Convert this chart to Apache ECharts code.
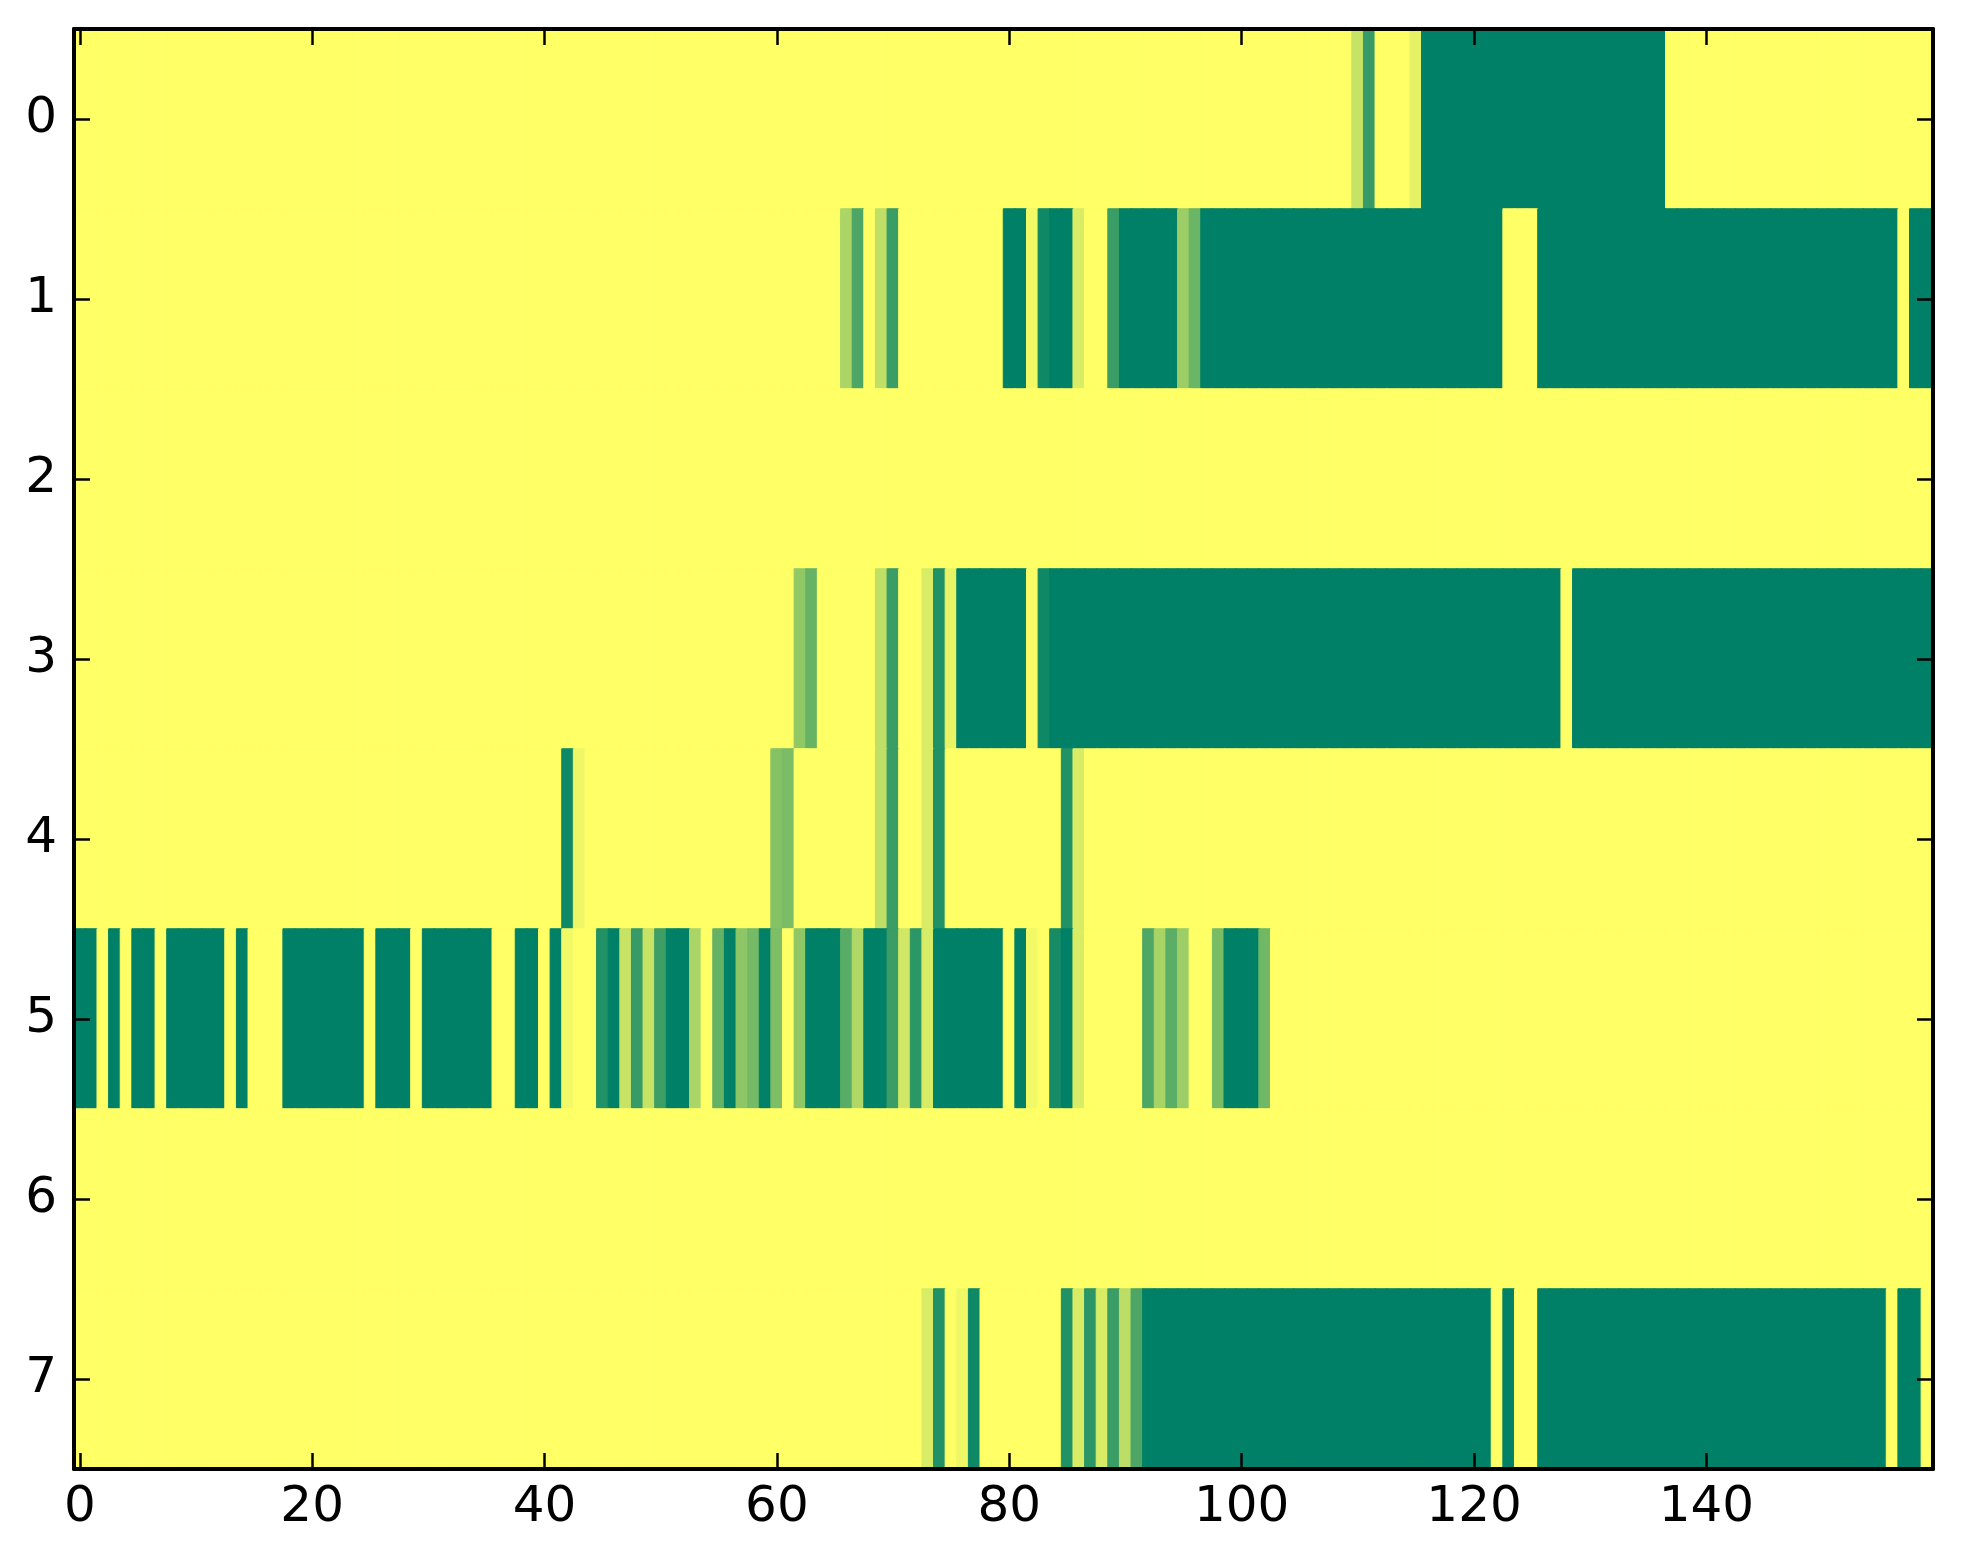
<!DOCTYPE html>
<html><head><meta charset="utf-8">
<script src="https://cdn.jsdelivr.net/npm/echarts@6/dist/echarts.min.js"></script>
<style>html,body{margin:0;padding:0;background:#fff}#c{width:1963px;height:1564px}</style>
</head><body><div id="c"></div>
<script>
// Values (0 = yellow, 1 = dark green), 160 columns per row
const row0 = [
0,0,0,0,0,0,0,0,0,0, 0,0,0,0,0,0,0,0,0,0, 0,0,0,0,0,0,0,0,0,0, 0,0,0,0,0,0,0,0,0,0,
0,0,0,0,0,0,0,0,0,0, 0,0,0,0,0,0,0,0,0,0, 0,0,0,0,0,0,0,0,0,0, 0,0,0,0,0,0,0,0,0,0,
0,0,0,0,0,0,0,0,0,0, 0,0,0,0,0,0,0,0,0,0, 0,0,0,0,0,0,0,0,0,0, 0.22,0.79,0,0,0,0.10,1,1,1,1,
1,1,1,1,1,1,1,1,1,1, 1,1,1,1,1,1,1,0,0,0, 0,0,0,0,0,0,0,0,0,0, 0,0,0,0,0,0,0,0,0,0];
const row1 = [
0,0,0,0,0,0,0,0,0,0, 0,0,0,0,0,0,0,0,0,0, 0,0,0,0,0,0,0,0,0,0, 0,0,0,0,0,0,0,0,0,0,
0,0,0,0,0,0,0,0,0,0, 0,0,0,0,0,0,0,0,0,0, 0,0,0,0,0,0,0.33,0.70,0,0.25, 0.77,0,0,0,0,0,0,0,0,0,
1,1,0.05,0.94,1,1,0.15,0,0,0.77, 1,1,1,1,1,0.39,0.58,1,1,1, 1,1,1,1,1,1,1,1,1,1, 1,1,1,1,1,1,1,1,1,1,
1,1,1,0,0,0,1,1,1,1, 1,1,1,1,1,1,1,1,1,1, 1,1,1,1,1,1,1,1,1,1, 1,1,1,1,1,1,1,0,1,1];
const row2 = [
0,0,0,0,0,0,0,0,0,0, 0,0,0,0,0,0,0,0,0,0, 0,0,0,0,0,0,0,0,0,0, 0,0,0,0,0,0,0,0,0,0,
0,0,0,0,0,0,0,0,0,0, 0,0,0,0,0,0,0,0,0,0, 0,0,0,0,0,0,0,0,0,0, 0,0,0,0,0,0,0,0,0,0,
0,0,0,0,0,0,0,0,0,0, 0,0,0,0,0,0,0,0,0,0, 0,0,0,0,0,0,0,0,0,0, 0,0,0,0,0,0,0,0,0,0,
0,0,0,0,0,0,0,0,0,0, 0,0,0,0,0,0,0,0,0,0, 0,0,0,0,0,0,0,0,0,0, 0,0,0,0,0,0,0,0,0,0];
const row3 = [
0,0,0,0,0,0,0,0,0,0, 0,0,0,0,0,0,0,0,0,0, 0,0,0,0,0,0,0,0,0,0, 0,0,0,0,0,0,0,0,0,0,
0,0,0,0,0,0,0,0,0,0, 0,0,0,0,0,0,0,0,0,0, 0,0,0.43,0.60,0,0,0,0,0,0.25, 0.77,0,0,0.15,0.87,0.09,1,1,1,1,
1,1,0.03,0.94,1,1,1,1,1,1, 1,1,1,1,1,1,1,1,1,1, 1,1,1,1,1,1,1,1,1,1, 1,1,1,1,1,1,1,1,1,1,
1,1,1,1,1,1,1,1,0,1, 1,1,1,1,1,1,1,1,1,1, 1,1,1,1,1,1,1,1,1,1, 1,1,1,1,1,1,1,1,1,1];
const row4 = [
0,0,0,0,0,0,0,0,0,0, 0,0,0,0,0,0,0,0,0,0, 0,0,0,0,0,0,0,0,0,0, 0,0,0,0,0,0,0,0,0,0,
0,0,0.94,0.06,0,0,0,0,0,0, 0,0,0,0,0,0,0,0,0,0, 0.48,0.52,0,0,0,0,0,0,0,0.25, 0.77,0,0,0.15,0.87,0,0,0,0,0,
0,0,0,0,0,0.87,0.15,0,0,0, 0,0,0,0,0,0,0,0,0,0, 0,0,0,0,0,0,0,0,0,0, 0,0,0,0,0,0,0,0,0,0,
0,0,0,0,0,0,0,0,0,0, 0,0,0,0,0,0,0,0,0,0, 0,0,0,0,0,0,0,0,0,0, 0,0,0,0,0,0,0,0,0,0];
const row5 = [
1,1,0,1,0,1,1,0,1,1, 1,1,1,0,1,0,0,0,1,1, 1,1,1,1,1,0,1,1,1,0, 1,1,1,1,1,1,0,0,1,1,
0,1,0.05,0,0,0.87,1,0.22,0.79,0.22, 0.76,1,1,0.33,0,0.61,1,0.45,0.54,1, 0.51,0,0.44,1,1,1,0.65,0.31,1,1, 0.77,0.18,0.83,0.16,1,1,1,1,1,1,
0,1,0.05,0,0.91,1,0.15,0,0,0, 0,0,0.69,0.34,0.64,0.39,0,0,0.53,1, 1,1,0.56,0,0,0,0,0,0,0, 0,0,0,0,0,0,0,0,0,0,
0,0,0,0,0,0,0,0,0,0, 0,0,0,0,0,0,0,0,0,0, 0,0,0,0,0,0,0,0,0,0, 0,0,0,0,0,0,0,0,0,0];
const row6 = [
0,0,0,0,0,0,0,0,0,0, 0,0,0,0,0,0,0,0,0,0, 0,0,0,0,0,0,0,0,0,0, 0,0,0,0,0,0,0,0,0,0,
0,0,0,0,0,0,0,0,0,0, 0,0,0,0,0,0,0,0,0,0, 0,0,0,0,0,0,0,0,0,0, 0,0,0,0,0,0,0,0,0,0,
0,0,0,0,0,0,0,0,0,0, 0,0,0,0,0,0,0,0,0,0, 0,0,0,0,0,0,0,0,0,0, 0,0,0,0,0,0,0,0,0,0,
0,0,0,0,0,0,0,0,0,0, 0,0,0,0,0,0,0,0,0,0, 0,0,0,0,0,0,0,0,0,0, 0,0,0,0,0,0,0,0,0,0];
const row7 = [
0,0,0,0,0,0,0,0,0,0, 0,0,0,0,0,0,0,0,0,0, 0,0,0,0,0,0,0,0,0,0, 0,0,0,0,0,0,0,0,0,0,
0,0,0,0,0,0,0,0,0,0, 0,0,0,0,0,0,0,0,0,0, 0,0,0,0,0,0,0,0,0,0, 0,0,0,0.15,0.87,0,0.06,0.94,0,0,
0,0,0,0,0,0.87,0.15,0.83,0.15,0.77, 0.26,0.70,1,1,1,1,1,1,1,1, 1,1,1,1,1,1,1,1,1,1, 1,1,1,1,1,1,1,1,1,1,
1,1,0,1,0,0,1,1,1,1, 1,1,1,1,1,1,1,1,1,1, 1,1,1,1,1,1,1,1,1,1, 1,1,1,1,1,1,0,1,1,0];

const rows = [row0, row1, row2, row3, row4, row5, row6, row7];
const rowLabels = ['0','1','2','3','4','5','6','7'];
const xTickLabels = ['0','20','40','60','80','100','120','140'];
const palette = ['#ffff66', '#008066']; // summer_r end colours

const columns = [];
for (let i = 0; i < row0.length; i++) columns.push(String(i));
const cells = [];
rows.forEach((r, y) => r.forEach((v, x) => cells.push({
  value: [x, y, v],
  itemStyle: { borderColor: echarts.color.lerp(v, palette), borderWidth: 1 }
})));

const FONT = 'DejaVu Sans';
const tickX = (idx) => xTickLabels.indexOf(String(idx)) >= 0;
function axisLine() { return { show: true, lineStyle: { color: '#000', width: 4 } }; }
function ticks(interval) {
  return { show: true, interval: interval, inside: true, length: 16, alignWithLabel: true,
           lineStyle: { color: '#000', width: 2.5 } };
}

const chart = echarts.init(document.getElementById('c'), null, { renderer: 'canvas' });
chart.setOption({
  animation: false,
  backgroundColor: '#fff',
  grid: { left: 74, top: 29, width: 1859, height: 1440, containLabel: false },
  xAxis: [
    { type: 'category', data: columns, position: 'bottom', boundaryGap: true,
      axisLine: axisLine(), axisTick: ticks(tickX),
      axisLabel: { show: true, interval: tickX, fontFamily: FONT, fontSize: 50, color: '#000', margin: 14 },
      splitLine: { show: false }, zlevel: 1, z: 10 },
    { type: 'category', data: columns, position: 'top', boundaryGap: true,
      axisLine: axisLine(), axisTick: ticks(tickX),
      axisLabel: { show: false }, splitLine: { show: false }, zlevel: 1, z: 10 }
  ],
  yAxis: [
    { type: 'category', data: rowLabels, inverse: true, position: 'left', boundaryGap: true,
      axisLine: axisLine(), axisTick: ticks(0),
      axisLabel: { show: true, interval: 0, fontFamily: FONT, fontSize: 50, color: '#000', margin: 17 },
      splitLine: { show: false }, zlevel: 1, z: 10 },
    { type: 'category', data: rowLabels, inverse: true, position: 'right', boundaryGap: true,
      axisLine: axisLine(), axisTick: ticks(0),
      axisLabel: { show: false }, splitLine: { show: false }, zlevel: 1, z: 10 }
  ],
  visualMap: { type: 'continuous', show: false, min: 0, max: 1, dimension: 2,
    seriesIndex: 0, inRange: { color: palette } },
  series: [{
    type: 'heatmap', xAxisIndex: 0, yAxisIndex: 0, data: cells,
    progressive: 0, z: 1,
    emphasis: { disabled: true }, label: { show: false }
  }]
});
</script></body></html>
